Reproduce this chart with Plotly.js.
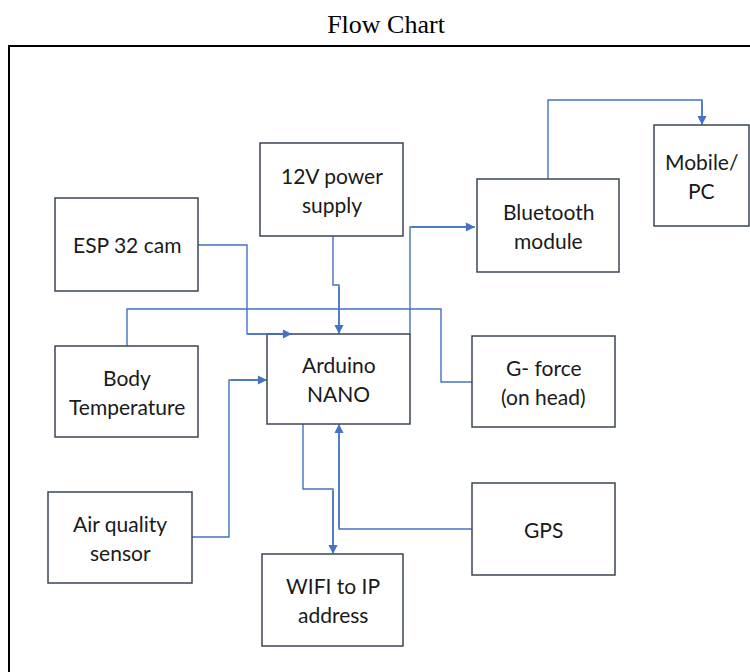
<!DOCTYPE html>
<html>
<head>
<meta charset="utf-8">
<script src="https://cdn.plot.ly/plotly-3.0.1.min.js"></script>
<style>html,body{margin:0;padding:0;background:#fff;}#chart{width:750px;height:672px;}</style>
</head>
<body>
<div id="chart"></div>
<script>
// Nodes of the flow chart (pixel-space coordinates)
var nodeLabels = ["12V power<br>supply", "ESP 32 cam", "Bluetooth<br>module", "Mobile/<br>PC",
                  "Arduino<br>NANO", "Body<br>Temperature", "G- force<br>(on head)",
                  "Air quality<br>sensor", "WIFI to IP<br>address", "GPS"];
var nodeX0 = [260, 55, 477, 654, 267, 55, 472, 48, 262, 472];
var nodeX1 = [403, 198, 619, 749, 410, 198, 615, 192, 403, 615];
var nodeY0 = [143, 198, 179, 125, 334, 346, 336, 492, 554, 483];
var nodeY1 = [236, 291, 272, 226, 424, 437, 427, 583, 646, 575];

// Connectors (polyline vertices) and whether they end in an arrow
var edgeX = [[198,247,247,292],[333,333,339,339],[127,127,441,441,472],[410,410,475],
             [548,548,702,702],[192,229,229,267],[303,303,333,333],[472,339,339]];
var edgeY = [[245,245,334,334],[236,285,285,334],[346,309,309,382,382],[334,227,227],
             [179,100,100,125],[537,537,380,380],[424,489,489,554],[529,529,424]];
var edgeArrow = [true, true, false, true, true, true, true, true];

var titleText = "Flow Chart";

var lineBlue = "#4472C4";
var boxColor = "#3B4656";
var lineGap = 29;

var traces = [];
var shapes = [];
var annotations = [];

// outer frame
shapes.push({type: "rect", xref: "x", yref: "y", x0: 9, x1: 765, y0: 46, y1: 690,
             line: {color: "#000", width: 2}, fillcolor: "rgba(0,0,0,0)", layer: "below"});

for (var i = 0; i < edgeX.length; i++) {
  traces.push({type: "scatter", mode: "lines", x: edgeX[i], y: edgeY[i],
               line: {color: lineBlue, width: 1.4}, hoverinfo: "skip", showlegend: false});
  if (edgeArrow[i]) {
    var n = edgeX[i].length;
    annotations.push({xref: "x", yref: "y", axref: "x", ayref: "y",
      x: edgeX[i][n-1], y: edgeY[i][n-1], ax: edgeX[i][n-2], ay: edgeY[i][n-2],
      text: "", showarrow: true, arrowhead: 2, arrowsize: 1.3, arrowwidth: 1.4,
      arrowcolor: lineBlue, standoff: 0, startstandoff: 0});
  }
}

for (var j = 0; j < nodeLabels.length; j++) {
  shapes.push({type: "rect", xref: "x", yref: "y", x0: nodeX0[j], x1: nodeX1[j],
               y0: nodeY0[j], y1: nodeY1[j], line: {color: boxColor, width: 1.5},
               fillcolor: "rgba(0,0,0,0)", layer: "above"});
  var parts = nodeLabels[j].split("<br>");
  var cy = (nodeY0[j] + nodeY1[j]) / 2;
  for (var k = 0; k < parts.length; k++) {
    annotations.push({xref: "x", yref: "y", x: (nodeX0[j] + nodeX1[j]) / 2,
      y: cy + (k - (parts.length - 1) / 2) * lineGap, text: parts[k], showarrow: false,
      font: {family: "Lato, 'Open Sans', sans-serif", size: 21, color: "#1a1a1a"},
      xanchor: "center", yanchor: "middle", align: "center"});
  }
}

var layout = {
  width: 750, height: 672,
  margin: {l: 0, r: 0, t: 0, b: 0},
  paper_bgcolor: "#fff", plot_bgcolor: "#fff",
  title: {text: titleText, x: 386 / 750, xanchor: "center", xref: "paper",
          y: 1 - 24 / 672, yref: "container", yanchor: "middle",
          font: {family: "'Liberation Serif', 'Times New Roman', serif", size: 26, color: "#000"}},
  xaxis: {range: [0, 750], visible: false, fixedrange: true},
  yaxis: {range: [672, 0], visible: false, fixedrange: true},
  shapes: shapes,
  annotations: annotations,
  showlegend: false
};

Plotly.newPlot("chart", traces, layout, {displayModeBar: false, staticPlot: true});
</script>
</body>
</html>
